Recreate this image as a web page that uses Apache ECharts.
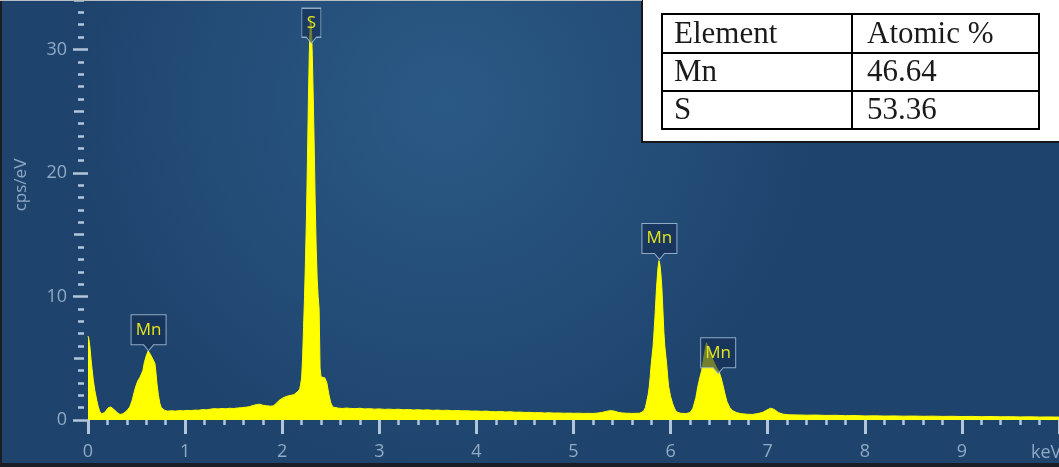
<!DOCTYPE html>
<html>
<head>
<meta charset="utf-8">
<script src="https://cdn.jsdelivr.net/npm/echarts@6/dist/echarts.min.js"></script>
<style>
  html, body { margin: 0; padding: 0; background: #1f456f; }
  #chart { width: 1059px; height: 467px; }
</style>
</head>
<body>
<div id="chart"></div>
<script>
// EDS spectrum of a manganese sulfide sample: energy (keV) vs counts (cps/eV)
const energyKeV = [
  0.00, 0.01, 0.02, 0.035, 0.055, 0.07, 0.09, 0.105, 0.12, 0.14, 0.155, 0.17, 0.19, 0.21, 0.235, 0.255, 0.275, 0.30, 0.33, 0.36,
  0.38, 0.40, 0.43, 0.455, 0.48, 0.50, 0.515, 0.535, 0.55, 0.565, 0.58, 0.60, 0.62, 0.635, 0.65, 0.67, 0.69, 0.70, 0.71, 0.725,
  0.74, 0.755, 0.77, 0.79,
  0.82, 0.86, 0.90, 0.94, 0.98, 1.02, 1.06, 1.10, 1.14, 1.18, 1.22, 1.26, 1.30, 1.34, 1.38, 1.42, 1.46, 1.50, 1.54, 1.58,
  1.62, 1.66, 1.70, 1.74, 1.77, 1.80, 1.84, 1.88, 1.91, 1.94, 1.97, 2.00, 2.03, 2.06, 2.09, 2.12, 2.14, 2.16, 2.18,
  2.19, 2.20, 2.21, 2.22, 2.23, 2.24, 2.25, 2.26, 2.27, 2.28, 2.29, 2.30, 2.31, 2.32, 2.33, 2.34, 2.35, 2.36, 2.37, 2.38,
  2.39, 2.40, 2.42, 2.44, 2.46, 2.48, 2.50, 2.52, 2.54,
  2.58, 2.62, 2.66, 2.70, 2.75, 2.80, 2.85, 2.90, 2.95, 3.00, 3.05, 3.10, 3.15, 3.20, 3.25, 3.30, 3.35, 3.40, 3.45, 3.50,
  3.55, 3.60, 3.65, 3.70, 3.75, 3.80, 3.85, 3.90, 3.95, 4.00, 4.05, 4.10, 4.15, 4.20, 4.25, 4.30, 4.35, 4.40, 4.45, 4.50,
  4.55, 4.60, 4.65, 4.70, 4.75, 4.80, 4.85, 4.90, 4.95, 5.00, 5.05, 5.10, 5.15, 5.20, 5.25, 5.30, 5.34, 5.38, 5.42, 5.46,
  5.50, 5.55, 5.60, 5.64,
  5.68, 5.70, 5.72, 5.74, 5.75, 5.77, 5.78, 5.79, 5.80, 5.82, 5.83, 5.84, 5.855, 5.87, 5.88, 5.89, 5.90, 5.91, 5.92, 5.93,
  5.94, 5.96, 5.97, 5.98, 6.00, 6.02, 6.04, 6.06, 6.10, 6.16,
  6.20, 6.23, 6.26, 6.28, 6.30, 6.32, 6.34, 6.36, 6.37, 6.38, 6.40, 6.42, 6.44, 6.47, 6.50, 6.52, 6.54, 6.56, 6.58, 6.61,
  6.64, 6.68, 6.72,
  6.78, 6.84, 6.90, 6.95, 6.99, 7.03, 7.07, 7.11, 7.16, 7.22,
  7.30, 7.40, 7.50, 7.60, 7.70, 7.80, 7.90, 8.00, 8.10, 8.20, 8.30, 8.40, 8.50, 8.60, 8.70, 8.80, 8.90, 9.00, 9.10, 9.20,
  9.30, 9.40, 9.50, 9.60, 9.70, 9.80, 9.90, 9.96, 10.00
];

const cpsPerEV = [
  6.8, 6.5, 5.9, 4.6, 3.2, 2.4, 1.6, 1.1, 0.7, 0.5, 0.5, 0.6, 0.8, 1.0, 1.05, 0.95, 0.8, 0.6, 0.45, 0.5,
  0.55, 0.75, 1.05, 1.6, 2.4, 2.9, 3.2, 3.45, 3.6, 4.0, 4.65, 5.2, 5.6, 5.45, 5.2, 4.9, 4.55, 3.8, 2.95, 2.0,
  1.35, 1.0, 0.9, 0.78,
  0.72, 0.75, 0.72, 0.76, 0.74, 0.78, 0.76, 0.8, 0.79, 0.84, 0.82, 0.88, 0.92, 0.9, 0.93, 0.91, 0.95, 0.93, 0.97, 1.0,
  1.03, 1.07, 1.18, 1.25, 1.28, 1.2, 1.15, 1.12, 1.15, 1.35, 1.6, 1.75, 1.87, 1.95, 2.0, 2.05, 2.13, 2.3, 2.5,
  2.9, 3.4, 5.0, 7.5, 10, 13, 16.5, 21, 26, 30, 32.5, 32, 29.5, 26, 22, 17.5, 14, 11.5, 10, 9,
  4.2, 3.5, 3.4, 3.4, 3.0, 2.1, 1.4, 1.05, 0.98,
  0.96, 0.93, 0.97, 0.94, 0.92, 0.95, 0.9, 0.92, 0.88, 0.9, 0.86, 0.88, 0.85, 0.87, 0.83, 0.85, 0.81, 0.83, 0.8, 0.82,
  0.78, 0.8, 0.77, 0.79, 0.75, 0.77, 0.74, 0.75, 0.72, 0.73, 0.7, 0.72, 0.68, 0.67, 0.69, 0.65, 0.67, 0.63, 0.64, 0.61,
  0.62, 0.59, 0.6, 0.57, 0.59, 0.56, 0.57, 0.55, 0.56, 0.54, 0.55, 0.53, 0.54, 0.53, 0.56, 0.62, 0.7, 0.76, 0.72, 0.62,
  0.57, 0.55, 0.53, 0.54,
  0.55, 0.6, 0.7, 1.0, 1.35, 2.1, 2.7, 3.5, 4.5, 6.0, 7.2, 8.5, 10.7, 12.3, 12.9, 12.6, 11.8, 10.7, 9.0, 7.2,
  6.0, 4.5, 3.5, 2.7, 1.9, 1.35, 0.95, 0.67, 0.55, 0.52,
  0.6, 0.95, 1.8, 2.7, 3.4, 4.0, 5.0, 5.9, 6.25, 6.0, 5.6, 5.2, 4.8, 4.3, 3.9, 3.4, 2.8, 2.1, 1.5, 1.0,
  0.75, 0.6, 0.52,
  0.47, 0.45, 0.52, 0.62, 0.8, 0.95, 0.85, 0.6, 0.47, 0.42,
  0.41, 0.39, 0.4, 0.37, 0.38, 0.35, 0.36, 0.33, 0.34, 0.32, 0.33, 0.31, 0.32, 0.3, 0.31, 0.29, 0.3, 0.28, 0.29, 0.27,
  0.28, 0.26, 0.27, 0.25, 0.26, 0.24, 0.25, 0.24, 0.24
];

// Element line markers on the spectrum
const lineNames = ['Mn', 'S', 'Mn', 'Mn'];
const lineKeV = [0.624, 2.30, 5.885, 6.49];
const lineCps = [5.6, 30.5, 13.0, 3.75];

// Quantification table
const tableHeader = ['Element', 'Atomic %'];
const tableElements = ['Mn', 'S'];
const tableAtomicPct = ['46.64', '53.36'];

const spectrum = energyKeV.map((e, i) => [e, cpsPerEV[i]]);

const tickColor = '#b3c5da';
const labelColor = '#91a9c4';
const axisFont = 'Open Sans';

// Callout box with a small pointer at the bottom centre
function callout(w, h) {
  const p = 6, half = 5, cx = w / 2;
  return {
    path: 'path://M0,0H' + w + 'V' + h + 'H' + (cx + half) + 'L' + cx + ',' + (h + p) +
          'L' + (cx - half) + ',' + h + 'H0Z',
    size: [w, h + p]
  };
}

const markers = lineNames.map((name, i) => {
  const box = name.length > 1 ? callout(35, 30) : callout(19, 29);
  return {
    name: name,
    coord: [lineKeV[i], lineCps[i]],
    symbol: box.path,
    symbolSize: box.size,
    symbolOffset: [0, -box.size[1] / 2],
    label: { offset: [0, -3] }
  };
});

// Table graphics (upper right)
const tblLeft = 662, tblRight = 1039, colX = 852;
const rowY = [14, 53, 91, 129];
const tableGraphics = [
  { type: 'rect', z: 100, shape: { x: 642, y: -3, width: 420, height: 145 },
    style: { fill: '#ffffff', stroke: '#14171c', lineWidth: 2 } },
  { type: 'rect', z: 101, shape: { x: tblLeft, y: rowY[0], width: tblRight - tblLeft, height: rowY[3] - rowY[0] },
    style: { fill: 'none', stroke: '#000', lineWidth: 2 } },
  { type: 'line', z: 101, shape: { x1: colX, y1: rowY[0], x2: colX, y2: rowY[3] }, style: { stroke: '#000', lineWidth: 2 } },
  { type: 'line', z: 101, shape: { x1: tblLeft, y1: rowY[1], x2: tblRight, y2: rowY[1] }, style: { stroke: '#000', lineWidth: 2 } },
  { type: 'line', z: 101, shape: { x1: tblLeft, y1: rowY[2], x2: tblRight, y2: rowY[2] }, style: { stroke: '#000', lineWidth: 2 } }
];
const rows = [tableHeader].concat(tableElements.map((el, i) => [el, tableAtomicPct[i]]));
rows.forEach((row, r) => {
  const cy = (rowY[r] + rowY[r + 1]) / 2 + 1;
  [674, 867].forEach((x, c) => {
    tableGraphics.push({
      type: 'text', z: 102, x: x, y: cy,
      style: { text: row[c], fill: '#1a1a1a', font: '31px "Liberation Serif"', verticalAlign: 'middle', align: 'left' }
    });
  });
});

const chart = echarts.init(document.getElementById('chart'), null, { renderer: 'canvas' });

chart.setOption({
  animation: false,
  backgroundColor: new echarts.graphic.RadialGradient(0.42, 0.22, 0.8, [
    { offset: 0, color: '#2b5986' },
    { offset: 1, color: '#1e446d' }
  ]),
  grid: { left: 88, right: -6, top: -5, bottom: 47 },
  xAxis: {
    type: 'value', min: 0, max: 10, interval: 1, offset: 3,
    axisLine: { show: false },
    splitLine: { show: false },
    axisTick: { show: true, length: 14, lineStyle: { color: tickColor, width: 3 } },
    minorTick: { show: true, splitNumber: 5, length: 5, lineStyle: { color: tickColor, width: 2.5 } },
    axisLabel: { color: labelColor, fontSize: 18, fontFamily: axisFont, margin: 20, showMaxLabel: false }
  },
  yAxis: [
    {
      type: 'value', min: 0, max: 34, interval: 10, offset: 4, position: 'left',
      axisLine: { show: false },
      splitLine: { show: false },
      axisTick: { show: true, length: 15, lineStyle: { color: tickColor, width: 2.5 } },
      axisLabel: { color: labelColor, fontSize: 18, fontFamily: axisFont, margin: 17, showMaxLabel: false }
    },
    {
      type: 'value', min: 0, max: 34, interval: 5, offset: 4, position: 'left',
      axisLine: { show: false },
      splitLine: { show: false },
      axisLabel: { show: false },
      axisTick: { show: true, length: 10, lineStyle: { color: tickColor, width: 2.5 } },
      minorTick: { show: true, splitNumber: 5, length: 6, lineStyle: { color: tickColor, width: 2.5 } }
    }
  ],
  series: [{
    type: 'line',
    data: spectrum,
    xAxisIndex: 0,
    yAxisIndex: 0,
    showSymbol: false,
    symbol: 'none',
    lineStyle: { color: '#ffff00', width: 1 },
    areaStyle: { color: '#ffff00', opacity: 1 },
    z: 2,
    markPoint: {
      silent: true,
      itemStyle: { color: 'rgba(20,44,80,0.6)', borderColor: 'rgba(165,192,215,0.85)', borderWidth: 1 },
      label: { show: true, position: 'inside', formatter: '{b}', color: '#e6e61c', fontSize: 17, fontFamily: axisFont },
      data: markers
    }
  }],
  graphic: [
    { type: 'text', x: 21, y: 185, rotation: Math.PI / 2, z: 50,
      style: { text: 'cps/eV', fill: labelColor, font: '17px "Open Sans"', align: 'center', verticalAlign: 'middle' } },
    { type: 'text', x: 1031, y: 453, z: 50,
      style: { text: 'keV', fill: labelColor, font: '18px "Open Sans"', align: 'left', verticalAlign: 'middle' } },
    // outer frame
    { type: 'line', z: 150, shape: { x1: 1, y1: 0, x2: 1, y2: 467 }, style: { stroke: '#1a1e24', lineWidth: 2 } },
    { type: 'line', z: 150, shape: { x1: 0, y1: 465, x2: 1059, y2: 465 }, style: { stroke: '#1a1e24', lineWidth: 4 } },
    { type: 'line', z: 150, shape: { x1: 0, y1: 0.5, x2: 642, y2: 0.5 }, style: { stroke: '#b9bec4', lineWidth: 1 } }
  ].concat(tableGraphics)
});
</script>
</body>
</html>
